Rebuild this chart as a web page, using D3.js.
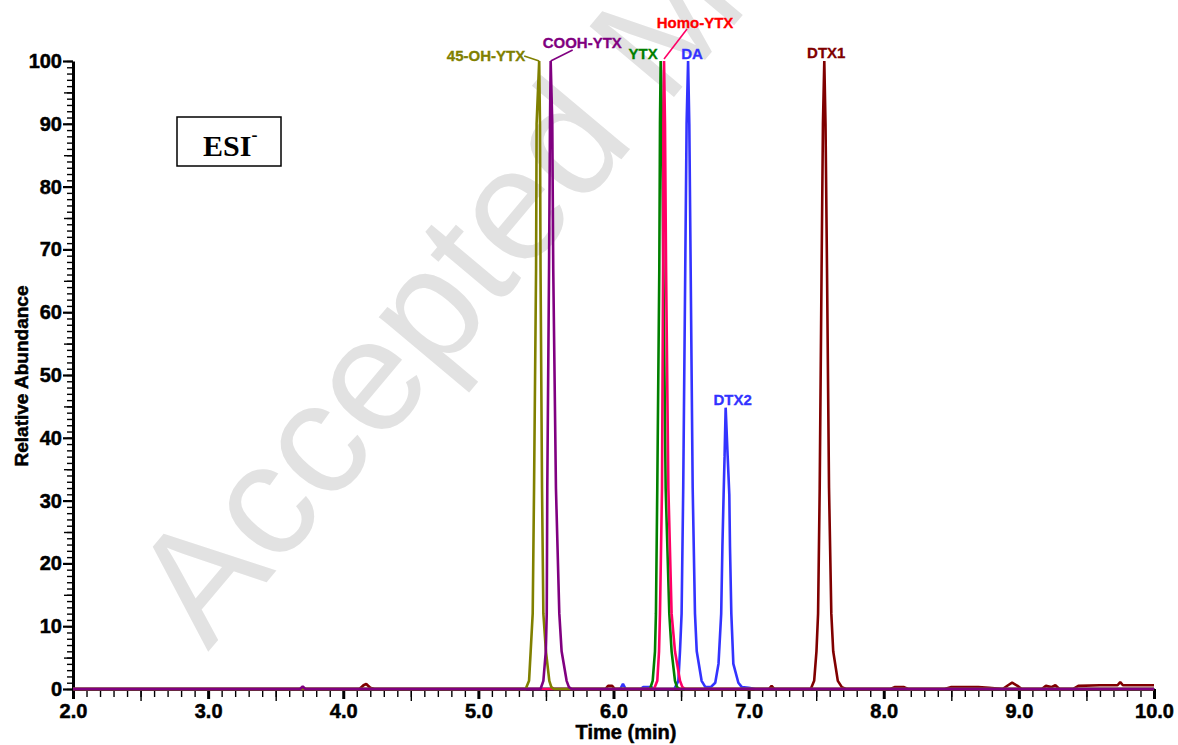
<!DOCTYPE html>
<html>
<head>
<meta charset="utf-8">
<script src="https://cdn.jsdelivr.net/npm/d3@7"></script>
<style>
body { margin: 0; background: #fff; }
</style>
</head>
<body>
<script>
// tick labels
var xTicks = [2, 3, 4, 5, 6, 7, 8, 9, 10];
var yTicks = [0, 10, 20, 30, 40, 50, 60, 70, 80, 90, 100];

// traces: [time (min), relative abundance]
var dtx1Trace = [[2.0,0],[4.12,0],[4.15,0.6],[4.17,0.8],[4.2,0.2],[4.23,0],[5.94,0],[5.96,0.5],[5.99,0.5],[6.01,0],
  [7.15,0],[7.17,0.5],[7.19,0],
  [7.46,0],[7.485,1.3],[7.502,6],[7.514,12],[7.526,32],[7.54,67],[7.55,90],[7.56,100],[7.569,90],[7.58,67],[7.595,32],
  [7.612,12],[7.626,6],[7.66,1.3],[7.69,0.3],[7.72,0],
  [8.05,0],[8.08,0.3],[8.15,0.3],[8.18,0],[8.45,0],[8.5,0.3],[8.7,0.3],[8.78,0.2],[8.88,0],[8.92,0.6],[8.95,1.0],[8.99,0.5],[9.02,0],
  [9.17,0],[9.2,0.5],[9.24,0.3],[9.27,0.6],[9.3,0],[9.4,0],[9.44,0.5],[9.6,0.6],[9.73,0.6],[9.75,1.1],[9.77,0.6],[10.0,0.6]];

var daTrace = [[2.0,0],[6.05,0],[6.07,0.8],[6.09,0],[6.2,0],[6.22,0.3],[6.28,0.3],[6.3,0],
  [6.45,0],[6.48,1.3],[6.492,6],[6.504,12],[6.516,32],[6.531,67],[6.541,90],[6.552,100],[6.561,90],[6.571,67],
  [6.586,32],[6.603,12],[6.616,6],[6.652,1.3],[6.68,0.3],[6.72,0.3]];

var dtx2Trace = [[6.72,0.3],[6.753,1],[6.777,4],[6.797,12],[6.806,22.7],[6.815,31],[6.822,37],[6.83,44.8],[6.845,37],
  [6.857,31],[6.862,22.7],[6.872,12],[6.887,4],[6.924,1],[6.95,0.3],[7.0,0.2],[7.05,0],[10.0,0]];

var ytxTrace = [[2.0,0],[6.27,0],[6.29,1.3],[6.307,6],[6.314,12],[6.324,32],[6.339,67],[6.344,90],[6.349,100],[6.359,90],
  [6.369,67],[6.386,32],[6.413,12],[6.43,6],[6.455,1.3],[6.47,0.3],[6.49,0],[10.0,0]];

var homoYtxTrace = [[2.0,0],[6.3,0],[6.324,1.3],[6.337,6],[6.344,12],[6.359,32],[6.367,67],[6.369,90],[6.374,100],[6.381,90],
  [6.389,67],[6.406,32],[6.43,12],[6.455,6],[6.492,1.3],[6.51,0.3],[6.53,0],[10.0,0]];

var ohYtxTrace = [[2.0,0],[5.35,0],[5.375,1.3],[5.387,6],[5.402,12],[5.412,32],[5.427,67],[5.431,90],[5.45,100],[5.456,90],
  [5.46,67],[5.471,32],[5.481,12],[5.5,6],[5.525,1.3],[5.54,0.3],[5.56,0],[10.0,0]];

var coohYtxTrace = [[2.0,0],[3.68,0],[3.7,0.4],[3.72,0],[5.46,0],[5.481,1.3],[5.499,6],[5.506,12],[5.51,32],[5.523,67],[5.53,90],
  [5.535,100],[5.547,90],[5.554,67],[5.574,32],[5.599,12],[5.616,6],[5.653,1.3],[5.67,0.3],[5.69,0],[10.0,0]];

var traces = [
  { data: dtx1Trace, color: "#800000" },
  { data: daTrace.concat(dtx2Trace), color: "#3333ff" },
  { data: ytxTrace, color: "#008000" },
  { data: homoYtxTrace, color: "#ff0066" },
  { data: ohYtxTrace, color: "#808000" },
  { data: coohYtxTrace, color: "#800080" }
];

// peak labels, each tied to the apex of one trace
var labels = [
  { text: "45-OH-YTX", peak: ohYtxTrace,   color: "#808000", dx: -14, dy: 0,   anchor: "end",    lead: [-15, -5, 0, 0] },
  { text: "COOH-YTX",  peak: coohYtxTrace, color: "#800080", dx: -8,  dy: -13, anchor: "start",  lead: [22, -11, 0, 0] },
  { text: "YTX",       peak: ytxTrace,     color: "#008000", dx: -3,  dy: -2,  anchor: "end" },
  { text: "Homo-YTX",  peak: homoYtxTrace, color: "#ff0000", dx: 31,  dy: -33, anchor: "middle", lead: [23, -32, 0, -2], leadColor: "#ff0066" },
  { text: "DA",        peak: daTrace,      color: "#3333ff", dx: 4,   dy: -2,  anchor: "middle" },
  { text: "DTX2",      peak: dtx2Trace,    color: "#3333ff", dx: 7,   dy: -3,  anchor: "middle" },
  { text: "DTX1",      peak: dtx1Trace,    color: "#800000", dx: 2,   dy: -3,  anchor: "middle" }
];

var width = 1178, height = 745;
var svg = d3.select("body").append("svg")
    .attr("width", width)
    .attr("height", height);

var x = d3.scaleLinear().domain([2, 10]).range([73, 1154]);
var y = d3.scaleLinear().domain([0, 100]).range([689, 61]);

// watermark
svg.append("text")
    .attr("transform", "translate(208,652) rotate(-50)")
    .attr("font-family", "'Liberation Sans', Arial, sans-serif")
    .attr("font-size", 160)
    .attr("fill", "#e2e2e2")
    .text("Accepted Manuscript");

// y axis: minor, medium, major ticks
function styleTicks(g, w) {
  g.select(".domain").remove();
  g.selectAll(".tick line").attr("stroke", "#000").attr("stroke-width", w);
}
svg.append("g").attr("transform", "translate(73,0)")
    .call(d3.axisLeft(y).tickValues(d3.range(0, 101, 1)).tickSize(6).tickFormat(""))
    .call(styleTicks, 1.4);
svg.append("g").attr("transform", "translate(73,0)")
    .call(d3.axisLeft(y).tickValues(d3.range(5, 100, 10)).tickSize(9).tickFormat(""))
    .call(styleTicks, 1.4);
var yAxis = svg.append("g").attr("transform", "translate(73,0)")
    .call(d3.axisLeft(y).tickValues(yTicks).tickSize(10).tickSizeOuter(0).tickPadding(1).tickFormat(d3.format("d")));
yAxis.select(".domain").attr("stroke-width", 3);
yAxis.selectAll(".tick line").attr("stroke-width", 2.2);

// x axis
svg.append("g").attr("transform", "translate(0,689)")
    .call(d3.axisBottom(x).tickValues(d3.range(20, 101, 1).map(function (d) { return d / 10; })).tickSize(8).tickFormat(""))
    .call(styleTicks, 1.4);
svg.append("g").attr("transform", "translate(0,689)")
    .call(d3.axisBottom(x).tickValues(d3.range(2.5, 10, 1)).tickSize(12).tickFormat(""))
    .call(styleTicks, 1.4);
var xAxis = svg.append("g").attr("transform", "translate(0,689)")
    .call(d3.axisBottom(x).tickValues(xTicks).tickSize(10).tickSizeOuter(0).tickPadding(5).tickFormat(d3.format(".1f")));
xAxis.select(".domain").attr("stroke-width", 3);
xAxis.selectAll(".tick line").attr("stroke-width", 3);

svg.selectAll(".tick text")
    .attr("font-family", "'Liberation Sans', Arial, sans-serif")
    .attr("font-weight", "bold")
    .attr("font-size", 20)
    .attr("fill", "#000")
    .attr("stroke", "#000")
    .attr("stroke-width", 0.5);

// axis titles
svg.append("text")
    .attr("x", 626).attr("y", 739)
    .attr("text-anchor", "middle")
    .attr("font-family", "'Liberation Sans', Arial, sans-serif")
    .attr("font-weight", "bold").attr("font-size", 20)
    .attr("stroke", "#000").attr("stroke-width", 0.5)
    .text("Time (min)");
svg.append("text")
    .attr("transform", "translate(28,376) rotate(-90)")
    .attr("text-anchor", "middle")
    .attr("font-family", "'Liberation Sans', Arial, sans-serif")
    .attr("font-weight", "bold").attr("font-size", 19)
    .attr("stroke", "#000").attr("stroke-width", 0.5)
    .text("Relative Abundance");

// ESI- box
svg.append("rect")
    .attr("x", 177).attr("y", 117).attr("width", 104).attr("height", 49)
    .attr("fill", "#fff").attr("stroke", "#000").attr("stroke-width", 1.5);
var esi = svg.append("text")
    .attr("x", 203).attr("y", 156)
    .attr("font-family", "'Liberation Serif', 'Times New Roman', serif")
    .attr("font-weight", "bold").attr("font-size", 30)
    .text("ESI");
esi.append("tspan").attr("dy", -15).attr("font-size", 18).text("-");

// traces
var line = d3.line()
    .x(function (d) { return x(d[0]); })
    .y(function (d) { return y(d[1]); });

svg.selectAll("path.trace")
    .data(traces)
    .enter()
    .append("path")
    .attr("class", "trace")
    .attr("d", function (d) { return line(d.data); })
    .attr("fill", "none")
    .attr("stroke", function (d) { return d.color; })
    .attr("stroke-width", 2.6)
    .attr("stroke-linejoin", "bevel");

// peak labels with leader lines
labels.forEach(function (l) {
  var apex = l.peak.reduce(function (a, b) { return b[1] > a[1] ? b : a; });
  var ax = x(apex[0]), ay = y(apex[1]);
  if (l.lead) {
    svg.append("line")
        .attr("x1", ax + l.lead[0]).attr("y1", ay + l.lead[1])
        .attr("x2", ax + l.lead[2]).attr("y2", ay + l.lead[3])
        .attr("stroke", l.leadColor || l.color).attr("stroke-width", 1.6);
  }
  svg.append("text")
      .attr("x", ax + l.dx).attr("y", ay + l.dy)
      .attr("text-anchor", l.anchor)
      .attr("font-family", "'Liberation Sans', Arial, sans-serif")
      .attr("font-weight", "bold").attr("font-size", 15)
      .attr("fill", l.color)
      .attr("stroke", l.color).attr("stroke-width", 0.3)
      .text(l.text);
});
</script>
</body>
</html>
